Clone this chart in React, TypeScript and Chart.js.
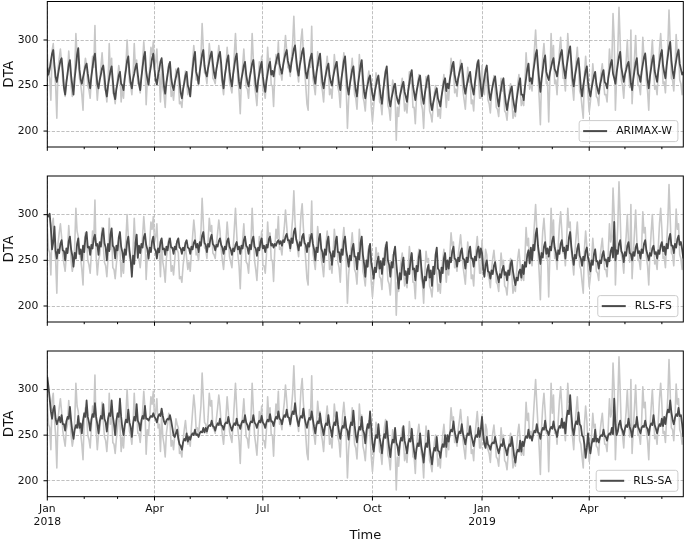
import React, { useEffect, useRef } from 'react';
import { Chart, registerables } from 'chart.js';

Chart.register(...registerables);

// Day 0 = 2018-01-01, one value per day
const monthStartDays = [0, 31, 59, 90, 120, 151, 181, 212, 243, 273, 304, 334, 365, 396, 424, 455, 485, 516];
const majorTickDays = [0, 90, 181, 273, 365, 455];
const majorTickLabels: (string | string[])[] = [['Jan', '2018'], 'Apr', 'Jul', 'Oct', ['Jan', '2019'], 'Apr'];
const yTickValues = [200, 250, 300];
const seriesNames = ['ARIMAX-W', 'RLS-FS', 'RLS-SA'];

const actualDTA = [
  285, 262, 258, 234, 288, 296, 268,
  250, 214, 268, 280, 290, 276, 255,
  246, 238, 256, 262, 288, 270, 250,
  238, 246, 265, 307, 282, 276, 258,
  252, 240, 223, 268, 280, 272, 250,
  245, 236, 258, 282, 270, 316, 255,
  234, 250, 256, 270, 286, 266, 248,
  244, 232, 252, 296, 262, 280, 242,
  240, 230, 246, 258, 272, 264, 232,
  248, 236, 258, 272, 300, 276, 254,
  250, 240, 262, 296, 268, 278, 252,
  252, 242, 258, 276, 298, 280, 229,
  256, 250, 270, 292, 284, 298, 270,
  276, 290, 258, 262, 232, 272, 248,
  240, 226, 252, 262, 274, 264, 238,
  244, 234, 250, 268, 262, 258, 230,
  232, 226, 244, 256, 266, 252, 240,
  248, 238, 258, 276, 294, 280, 256,
  258, 250, 266, 282, 318, 290, 264,
  262, 252, 270, 296, 282, 288, 258,
  256, 252, 268, 280, 294, 282, 262,
  250, 240, 258, 270, 292, 276, 254,
  248, 242, 262, 284, 307, 280, 256,
  244, 219, 256, 272, 290, 268, 248,
  246, 236, 258, 270, 307, 278, 250,
  240, 228, 252, 276, 264, 282, 244,
  244, 236, 256, 292, 270, 280, 250,
  250, 227, 262, 284, 274, 298, 262,
  264, 256, 274, 286, 305, 288, 270,
  268, 260, 280, 296, 326, 292, 274,
  264, 254, 276, 300, 312, 286, 268,
  250, 230, 223, 278, 270, 315, 258,
  250, 240, 262, 287, 272, 276, 252,
  244, 232, 254, 268, 282, 266, 240,
  246, 236, 258, 284, 270, 276, 248,
  242, 226, 254, 272, 286, 270, 246,
  203, 234, 250, 264, 280, 262, 240,
  236, 224, 250, 284, 266, 272, 238,
  232, 222, 244, 256, 266, 250, 226,
  210, 226, 242, 264, 252, 258, 232,
  230, 218, 244, 258, 267, 250, 228,
  224, 212, 236, 256, 248, 240, 190,
  226, 216, 236, 248, 258, 244, 222,
  230, 220, 240, 265, 252, 256, 226,
  226, 208, 238, 252, 262, 248, 230,
  224, 203, 236, 260, 248, 252, 222,
  218, 210, 228, 242, 250, 236, 216,
  224, 214, 236, 250, 262, 246, 226,
  244, 234, 256, 280, 266, 270, 242,
  246, 238, 256, 266, 278, 262, 244,
  234, 224, 246, 270, 254, 258, 230,
  234, 222, 248, 262, 276, 258, 236,
  236, 272, 246, 240, 262, 256, 234,
  230, 220, 240, 252, 261, 246, 226,
  224, 216, 236, 258, 244, 250, 222,
  220, 212, 230, 244, 252, 236, 214,
  222, 216, 236, 252, 262, 246, 228,
  234, 228, 252, 286, 266, 274, 246,
  254, 244, 268, 290, 311, 284, 260,
  236, 207, 258, 282, 296, 276, 252,
  254, 210, 258, 307, 274, 294, 252,
  256, 240, 266, 288, 303, 282, 258,
  258, 244, 270, 307, 286, 292, 260,
  248, 234, 260, 276, 292, 270, 244,
  240, 226, 214, 262, 282, 266, 240,
  221, 232, 250, 274, 258, 262, 238,
  236, 228, 252, 264, 274, 256, 240,
  240, 232, 258, 290, 270, 276, 329,
  300, 223, 258, 288, 336, 298, 256,
  250, 236, 260, 276, 300, 270, 248,
  311, 230, 256, 280, 305, 272, 250,
  250, 240, 264, 303, 280, 286, 254,
  244, 223, 258, 280, 300, 274, 246,
  250, 240, 264, 290, 307, 284, 252,
  254, 242, 268, 292, 333, 296, 258,
  256, 244, 268, 306, 284, 290, 256,
  252, 240, 262,
];

const arimaxW = [
  270, 262, 268, 277, 285, 289, 272,
  259, 254, 262, 270, 277, 280, 266,
  248, 240, 253, 263, 273, 278, 261,
  250, 240, 258, 270, 284, 291, 268,
  257, 252, 259, 265, 271, 274, 263,
  254, 247, 260, 270, 280, 285, 267,
  252, 247, 256, 262, 269, 272, 260,
  245, 238, 250, 258, 266, 271, 256,
  241, 235, 246, 253, 261, 265, 252,
  250, 245, 258, 267, 277, 282, 264,
  253, 247, 257, 263, 270, 274, 262,
  252, 245, 259, 270, 281, 287, 266,
  257, 251, 263, 271, 280, 285, 268,
  256, 251, 261, 268, 276, 280, 266,
  249, 241, 253, 262, 271, 276, 259,
  250, 245, 253, 259, 265, 269, 256,
  242, 236, 246, 253, 261, 265, 250,
  246, 238, 255, 268, 280, 287, 265,
  260, 252, 265, 274, 284, 289, 272,
  264, 260, 269, 276, 283, 287, 274,
  264, 258, 268, 275, 283, 287, 274,
  256, 247, 260, 269, 278, 283, 266,
  256, 249, 262, 271, 280, 285, 268,
  254, 247, 257, 264, 272, 276, 262,
  254, 249, 259, 266, 274, 278, 264,
  251, 243, 255, 263, 271, 276, 260,
  250, 243, 255, 263, 272, 276, 262,
  266, 260, 269, 275, 281, 285, 273,
  268, 263, 272, 279, 285, 289, 277,
  272, 265, 275, 282, 290, 294, 280,
  268, 261, 272, 279, 287, 291, 276,
  264, 258, 267, 274, 281, 285, 271,
  259, 252, 264, 272, 280, 285, 268,
  254, 247, 256, 263, 270, 274, 261,
  254, 250, 259, 266, 272, 276, 263,
  252, 245, 258, 267, 277, 282, 264,
  248, 240, 251, 259, 267, 271, 256,
  245, 238, 252, 262, 272, 278, 258,
  243, 236, 245, 251, 258, 261, 249,
  240, 234, 243, 250, 257, 261, 248,
  238, 230, 244, 255, 265, 271, 251,
  234, 227, 236, 242, 249, 252, 240,
  234, 230, 238, 244, 250, 254, 243,
  238, 232, 244, 253, 262, 267, 250,
  242, 234, 243, 250, 257, 261, 248,
  237, 230, 241, 249, 257, 261, 246,
  230, 223, 231, 237, 243, 247, 236,
  232, 227, 238, 246, 254, 258, 244,
  252, 247, 257, 264, 272, 276, 262,
  255, 250, 258, 264, 270, 274, 262,
  248, 241, 249, 255, 261, 265, 253,
  246, 240, 253, 263, 273, 278, 260,
  248, 238, 250, 258, 267, 272, 256,
  242, 234, 243, 250, 256, 260, 247,
  236, 227, 238, 246, 254, 258, 242,
  231, 223, 232, 239, 245, 249, 236,
  228, 221, 234, 243, 252, 258, 240,
  240, 234, 248, 258, 268, 274, 255,
  258, 252, 265, 274, 284, 289, 271,
  256, 243, 257, 267, 278, 283, 265,
  260, 256, 264, 270, 276, 280, 268,
  265, 260, 270, 277, 285, 289, 275,
  266, 258, 270, 279, 288, 293, 275,
  258, 249, 260, 268, 276, 280, 265,
  247, 238, 250, 258, 266, 271, 254,
  244, 238, 247, 254, 261, 265, 252,
  246, 241, 250, 256, 263, 267, 254,
  252, 247, 258, 266, 274, 278, 263,
  258, 252, 264, 273, 282, 287, 270,
  262, 254, 262, 267, 273, 276, 265,
  252, 245, 257, 266, 275, 280, 263,
  260, 254, 265, 273, 281, 285, 270,
  256, 247, 260, 269, 278, 283, 266,
  260, 254, 266, 275, 284, 289, 272,
  264, 258, 272, 282, 292, 298, 278,
  266, 258, 269, 277, 285, 289, 274,
  268, 262, 265,
];

const rlsFS = [
  300, 298, 301, 285, 262, 270, 287,
  260, 252, 262, 258, 268, 272, 261,
  260, 250, 263, 258, 271, 276, 262,
  255, 243, 258, 252, 268, 274, 257,
  262, 250, 266, 259, 275, 281, 264,
  265, 256, 267, 263, 274, 278, 266,
  268, 256, 270, 265, 279, 285, 269,
  264, 250, 268, 260, 278, 285, 266,
  264, 252, 266, 261, 275, 281, 265,
  259, 248, 262, 256, 270, 276, 261,
  250, 232, 255, 246, 269, 278, 253,
  266, 258, 268, 264, 275, 279, 267,
  262, 252, 264, 259, 271, 276, 263,
  261, 252, 263, 259, 270, 274, 262,
  263, 256, 265, 261, 270, 274, 264,
  264, 257, 265, 262, 271, 274, 264,
  263, 257, 264, 261, 269, 272, 264,
  263, 257, 265, 262, 269, 272, 264,
  268, 259, 270, 266, 277, 281, 269,
  267, 259, 268, 265, 274, 278, 268,
  266, 261, 267, 265, 271, 274, 267,
  264, 257, 265, 262, 271, 274, 265,
  262, 256, 263, 260, 267, 270, 262,
  265, 257, 266, 263, 272, 276, 266,
  264, 257, 267, 262, 272, 276, 265,
  263, 255, 264, 261, 270, 274, 263,
  266, 259, 267, 264, 273, 276, 266,
  268, 264, 268, 266, 270, 272, 268,
  271, 266, 272, 270, 276, 279, 272,
  272, 263, 274, 269, 281, 285, 273,
  268, 261, 270, 266, 276, 279, 269,
  267, 259, 269, 265, 275, 279, 268,
  262, 250, 264, 259, 273, 279, 263,
  259, 248, 262, 256, 270, 276, 260,
  257, 245, 260, 254, 270, 276, 259,
  259, 248, 262, 256, 271, 276, 261,
  253, 243, 255, 250, 263, 268, 254,
  254, 240, 258, 251, 269, 276, 256,
  246, 232, 250, 243, 261, 268, 248,
  240, 230, 242, 237, 249, 254, 241,
  249, 235, 252, 245, 263, 270, 250,
  245, 232, 248, 242, 258, 265, 247,
  233, 219, 236, 229, 246, 253, 234,
  238, 225, 241, 235, 251, 258, 240,
  241, 228, 244, 238, 254, 261, 243,
  230, 220, 232, 228, 240, 245, 231,
  239, 222, 243, 235, 256, 264, 241,
  239, 226, 242, 236, 252, 258, 240,
  250, 241, 253, 248, 260, 265, 252,
  251, 243, 253, 249, 259, 263, 252,
  251, 241, 253, 248, 260, 265, 252,
  252, 243, 254, 250, 261, 265, 253,
  263, 258, 240, 232, 245, 250, 238,
  237, 230, 239, 235, 244, 248, 238,
  233, 226, 235, 231, 240, 244, 234,
  237, 228, 239, 234, 246, 250, 238,
  230, 223, 231, 228, 237, 240, 231,
  245, 235, 248, 243, 256, 261, 247,
  264, 250, 267, 261, 278, 285, 266,
  256, 246, 258, 253, 265, 270, 257,
  263, 254, 265, 261, 272, 276, 264,
  259, 250, 261, 257, 268, 272, 260,
  264, 252, 266, 261, 275, 281, 265,
  254, 245, 256, 252, 263, 268, 255,
  252, 244, 254, 250, 260, 264, 253,
  248, 238, 250, 245, 257, 262, 249,
  249, 241, 250, 247, 256, 260, 250,
  251, 243, 253, 249, 260, 264, 253,
  292, 250, 261, 257, 268, 272, 260,
  257, 248, 259, 255, 266, 270, 258,
  257, 250, 259, 255, 264, 268, 258,
  260, 252, 262, 258, 268, 272, 261,
  256, 250, 258, 255, 263, 266, 257,
  259, 252, 261, 257, 266, 270, 260,
  265, 256, 268, 263, 274, 279, 266,
  266, 258, 268, 264, 273, 277, 267,
  270, 262, 252,
];

const rlsSA = [
  314, 303, 290, 276, 268, 278, 282,
  268, 262, 266, 270, 264, 272, 262,
  262, 255, 265, 270, 268, 281, 266,
  254, 246, 256, 261, 258, 271, 258,
  263, 252, 266, 274, 270, 288, 270,
  264, 255, 267, 273, 270, 285, 270,
  262, 252, 265, 271, 268, 284, 268,
  264, 254, 268, 274, 271, 288, 271,
  262, 250, 266, 274, 270, 290, 270,
  258, 250, 261, 267, 264, 278, 264,
  259, 248, 262, 270, 266, 284, 266,
  263, 255, 266, 271, 268, 282, 268,
  268, 266, 269, 271, 270, 274, 270,
  268, 264, 270, 273, 271, 279, 271,
  265, 262, 266, 268, 267, 272, 266,
  258, 250, 248, 252, 256, 246, 240,
  238, 234, 242, 246, 244, 252, 243,
  248, 245, 250, 252, 250, 256, 250,
  251, 248, 252, 254, 253, 258, 253,
  258, 254, 259, 261, 260, 266, 260,
  259, 255, 260, 263, 261, 268, 261,
  260, 256, 262, 264, 263, 270, 263,
  259, 255, 260, 263, 261, 268, 261,
  261, 257, 263, 266, 264, 272, 264,
  261, 256, 262, 265, 264, 272, 264,
  262, 258, 263, 266, 264, 271, 264,
  262, 258, 264, 267, 265, 273, 265,
  265, 260, 266, 270, 268, 276, 268,
  267, 262, 268, 272, 270, 278, 270,
  269, 262, 271, 276, 273, 285, 273,
  266, 260, 268, 271, 269, 279, 269,
  263, 258, 265, 269, 267, 276, 267,
  259, 252, 261, 265, 263, 274, 263,
  257, 250, 259, 263, 261, 272, 261,
  256, 248, 259, 264, 261, 275, 262,
  253, 246, 256, 260, 258, 270, 258,
  255, 245, 258, 264, 261, 277, 261,
  250, 242, 253, 259, 256, 270, 256,
  252, 241, 255, 262, 258, 276, 258,
  241, 232, 244, 250, 247, 262, 247,
  240, 230, 244, 251, 247, 265, 248,
  236, 226, 239, 245, 242, 258, 242,
  238, 228, 241, 247, 244, 260, 244,
  238, 230, 241, 246, 243, 257, 243,
  232, 224, 235, 241, 238, 252, 238,
  230, 220, 234, 241, 237, 255, 237,
  227, 218, 230, 236, 233, 248, 233,
  232, 225, 235, 240, 237, 250, 237,
  250, 243, 252, 256, 254, 265, 254,
  248, 242, 250, 254, 252, 262, 252,
  246, 240, 248, 252, 250, 260, 250,
  244, 238, 246, 250, 248, 258, 248,
  256, 270, 250, 240, 236, 248, 240,
  238, 234, 240, 242, 241, 248, 241,
  235, 230, 236, 240, 238, 246, 238,
  234, 228, 236, 240, 238, 248, 238,
  227, 220, 230, 234, 232, 244, 232,
  243, 238, 245, 249, 247, 256, 247,
  249, 244, 251, 255, 253, 262, 253,
  252, 246, 254, 258, 256, 266, 256,
  254, 250, 256, 259, 257, 265, 257,
  254, 248, 256, 260, 258, 268, 258,
  264, 252, 269, 277, 273, 294, 273,
  257, 250, 260, 265, 262, 275, 262,
  260, 250, 248, 240, 225, 236, 252,
  238, 230, 240, 246, 243, 256, 243,
  246, 242, 248, 250, 249, 256, 249,
  248, 244, 250, 252, 251, 258, 251,
  290, 262, 250, 254, 262, 266, 258,
  255, 250, 257, 261, 259, 268, 259,
  255, 248, 257, 261, 259, 270, 259,
  256, 252, 258, 260, 259, 266, 259,
  257, 250, 259, 263, 261, 272, 261,
  257, 252, 258, 262, 260, 268, 260,
  270, 262, 272, 278, 275, 288, 275,
  267, 262, 269, 273, 271, 280, 271,
  272, 262, 248,
];

const modelSeries = [arimaxW, rlsFS, rlsSA];

// ---- layout / style (not data) ----
const W = 685;
const H = 543;
const PLOT_LEFT = 47.3;
const PLOT_RIGHT = 683.3;
const FRAMES = [
  { top: 1.5, bottom: 147 },
  { top: 176, bottom: 322 },
  { top: 351, bottom: 496.7 },
];
const Y_MIN = 182.5;
const Y_MAX = 342.3;
const FONT = 'DejaVu Sans';
const DARK = '#4a4a4a';
const LIGHT = '#c8c8c8';
const TEXT = '#111111';

Chart.defaults.font.family = FONT;

const decorPlugin = {
  id: 'decor',
  afterDraw(chart: any, _args: any, opts: any) {
    const { ctx, chartArea: a, scales } = chart;
    const xs = scales.x;
    const ys = scales.y;
    ctx.save();
    ctx.strokeStyle = '#000';
    ctx.lineWidth = 1;
    ctx.setLineDash([]);
    const line = (x1: number, y1: number, x2: number, y2: number) => {
      ctx.beginPath();
      ctx.moveTo(x1, y1);
      ctx.lineTo(x2, y2);
      ctx.stroke();
    };
    for (const d of monthStartDays) {
      const px = xs.getPixelForValue(d);
      const len = majorTickDays.includes(d) ? 3.8 : 2.2;
      line(px, a.bottom, px, a.bottom + len);
    }
    for (const v of yTickValues) {
      const py = ys.getPixelForValue(v);
      line(a.left - 3.8, py, a.left, py);
    }
    ctx.strokeRect(a.left, a.top, a.right - a.left, a.bottom - a.top);

    // legend (lower right)
    const label: string = opts.label;
    ctx.font = `10.8px "${FONT}"`;
    const tw = ctx.measureText(label).width;
    const bw = 4 + 24 + 9 + tw + 6;
    const bh = 21;
    const bx = a.right - 5.4 - bw;
    const by = a.bottom - 5.4 - bh;
    const r = 2.5;
    ctx.beginPath();
    ctx.moveTo(bx + r, by);
    ctx.lineTo(bx + bw - r, by);
    ctx.arcTo(bx + bw, by, bx + bw, by + r, r);
    ctx.lineTo(bx + bw, by + bh - r);
    ctx.arcTo(bx + bw, by + bh, bx + bw - r, by + bh, r);
    ctx.lineTo(bx + r, by + bh);
    ctx.arcTo(bx, by + bh, bx, by + bh - r, r);
    ctx.lineTo(bx, by + r);
    ctx.arcTo(bx, by, bx + r, by, r);
    ctx.closePath();
    ctx.fillStyle = 'rgba(255,255,255,0.8)';
    ctx.fill();
    ctx.strokeStyle = '#cccccc';
    ctx.lineWidth = 1;
    ctx.stroke();
    ctx.strokeStyle = DARK;
    ctx.lineWidth = 2;
    line(bx + 4, by + bh / 2, bx + 28, by + bh / 2);
    ctx.fillStyle = TEXT;
    ctx.textBaseline = 'middle';
    ctx.textAlign = 'left';
    ctx.fillText(label, bx + 37, by + bh / 2 + 0.5);
    ctx.restore();
  },
};

function makeConfig(idx: number): any {
  const f = FRAMES[idx];
  const isLast = idx === FRAMES.length - 1;
  const xH = isLast ? H - f.bottom : 10;
  const padBottom = H - f.bottom - xH;
  const model = modelSeries[idx];
  return {
    type: 'line',
    data: {
      datasets: [
        {
          label: seriesNames[idx],
          data: model.map((v, i) => ({ x: i, y: v })),
          borderColor: DARK,
          borderWidth: 1.8,
          pointRadius: 0,
          borderJoinStyle: 'round',
          tension: 0,
          fill: false,
        },
        {
          label: 'DTA',
          data: actualDTA.map((v, i) => ({ x: i, y: v })),
          borderColor: LIGHT,
          borderWidth: 1.6,
          pointRadius: 0,
          borderJoinStyle: 'round',
          tension: 0,
          fill: false,
        },
      ],
    },
    options: {
      animation: false,
      responsive: false,
      devicePixelRatio: 1,
      events: [],
      layout: { padding: { top: f.top, left: 0, right: W - PLOT_RIGHT, bottom: padBottom } },
      plugins: {
        legend: { display: false },
        tooltip: { enabled: false },
        decor: { label: seriesNames[idx] },
      },
      scales: {
        x: {
          type: 'linear',
          min: 0,
          max: actualDTA.length - 1,
          afterBuildTicks: (s: any) => {
            s.ticks = monthStartDays.map((v) => ({ value: v }));
          },
          afterFit: (s: any) => {
            s.height = xH;
            s.paddingLeft = 0;
            s.paddingRight = 0;
          },
          grid: {
            drawTicks: false,
            lineWidth: 0.8,
            color: (c: any) => (c.tick && majorTickDays.includes(c.tick.value) ? '#b0b0b0' : 'rgba(0,0,0,0)'),
          },
          border: { display: false, dash: [3.2, 1.6] },
          ticks: {
            display: isLast,
            autoSkip: false,
            maxRotation: 0,
            minRotation: 0,
            padding: 6.5,
            color: TEXT,
            font: { family: FONT, size: 10.8 },
            callback: (v: number) => {
              const k = majorTickDays.indexOf(v);
              return k >= 0 ? majorTickLabels[k] : '';
            },
          },
          title: {
            display: isLast,
            text: 'Time',
            color: TEXT,
            font: { family: FONT, size: 13 },
            padding: { top: 0, bottom: 0 },
          },
        },
        y: {
          type: 'linear',
          min: Y_MIN,
          max: Y_MAX,
          afterBuildTicks: (s: any) => {
            s.ticks = yTickValues.map((v) => ({ value: v }));
          },
          afterFit: (s: any) => {
            s.width = PLOT_LEFT;
            s.paddingTop = 0;
            s.paddingBottom = 0;
          },
          grid: { drawTicks: false, lineWidth: 0.8, color: '#b0b0b0' },
          border: { display: false, dash: [3.2, 1.6] },
          ticks: {
            padding: 9,
            color: TEXT,
            font: { family: FONT, size: 10.8 },
            callback: (v: number) => String(v),
          },
          title: {
            display: true,
            text: 'DTA',
            color: TEXT,
            font: { family: FONT, size: 13.5 },
            padding: { top: 1, bottom: 0 },
          },
        },
      },
    },
    plugins: [decorPlugin],
  };
}

export default function App() {
  const r0 = useRef<HTMLCanvasElement>(null);
  const r1 = useRef<HTMLCanvasElement>(null);
  const r2 = useRef<HTMLCanvasElement>(null);
  useEffect(() => {
    const refs = [r0, r1, r2];
    const charts = refs.map((r, i) => new Chart(r.current as HTMLCanvasElement, makeConfig(i)));
    return () => charts.forEach((c) => c.destroy());
  }, []);
  const canvasStyle: React.CSSProperties = { position: 'absolute', left: 0, top: 0 };
  return (
    <div style={{ position: 'absolute', left: 0, top: 0, width: W, height: H, background: '#fff' }}>
      <canvas ref={r0} width={W} height={H} style={canvasStyle} />
      <canvas ref={r1} width={W} height={H} style={canvasStyle} />
      <canvas ref={r2} width={W} height={H} style={canvasStyle} />
    </div>
  );
}
